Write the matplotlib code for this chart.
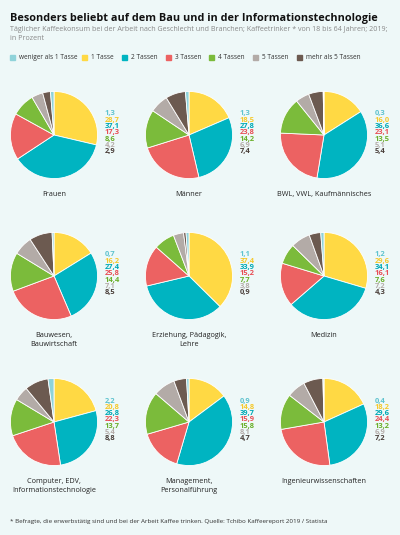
import matplotlib
matplotlib.use("Agg")
import matplotlib.pyplot as plt

categories = ["weniger als 1 Tasse", "1 Tasse", "2 Tassen", "3 Tassen", "4 Tassen", "5 Tassen", "mehr als 5 Tassen"]
groups = ["Frauen", "Männer", "BWL, VWL, Kaufmännisches",
          "Bauwesen,\nBauwirtschaft", "Erziehung, Pädagogik,\nLehre", "Medizin",
          "Computer, EDV,\nInformationstechnologie", "Management,\nPersonalführung", "Ingenieurwissenschaften"]
frauen = [1.3, 28.7, 37.1, 17.3, 8.6, 4.2, 2.9]
maenner = [1.3, 18.5, 27.8, 23.8, 14.2, 6.9, 7.4]
bwl = [0.3, 16.0, 36.6, 23.1, 13.5, 5.1, 5.4]
bau = [0.7, 16.2, 27.4, 25.8, 14.4, 7.1, 8.5]
erziehung = [1.1, 37.4, 33.9, 15.2, 7.7, 3.8, 0.9]
medizin = [1.2, 29.6, 34.1, 16.1, 7.6, 7.2, 4.3]
computer = [2.2, 20.8, 26.8, 22.3, 13.7, 5.4, 8.8]
management = [0.9, 14.8, 39.7, 15.9, 15.8, 8.1, 4.7]
ingenieur = [0.4, 18.2, 29.6, 24.4, 13.2, 6.9, 7.2]
data = [frauen, maenner, bwl, bau, erziehung, medizin, computer, management, ingenieur]

colors = ["#8fd3da", "#ffd944", "#00b4c1", "#ec6262", "#7bbb3b", "#b3aba7", "#6c5a50"]
text_colors = ["#5fc3cf", "#f5c92d", "#00a8b5", "#e84e55", "#6aaf2a", "#b5adaa", "#4a3f3a"]
bg = "#eef8f8"
W, H = 400, 535
plt.rcParams['font.family'] = ['Open Sans', 'DejaVu Sans']
fig = plt.figure(figsize=(4, 5.35), dpi=100, facecolor=bg)

fig.text(10/W, 1-18/H, "Besonders beliebt auf dem Bau und in der Informationstechnologie",
         fontsize=7.8, fontweight="bold", color="#111111", va="center")
fig.text(10/W, 1-34/H, "Täglicher Kaffeekonsum bei der Arbeit nach Geschlecht und Branchen; Kaffeetrinker * von 18 bis 64 Jahren; 2019;\nin Prozent",
         fontsize=5.1, color="#888888", va="center", linespacing=1.3)
leg_x = [10, 82, 122, 166, 209, 253, 297]
for x, c, lab in zip(leg_x, colors, categories):
    fig.patches.append(plt.Rectangle((x/W, 1-60/H), 5/W, 5/H, color=c, transform=fig.transFigure))
    fig.text((x+9)/W, 1-57.5/H, lab, fontsize=4.7, color="#333333", va="center")

cx = [54, 189, 324]
cy = [135, 276, 422]
r = 44
for i, vals in enumerate(data):
    row, col = divmod(i, 3)
    x0, y0 = cx[col], cy[row]
    ax = fig.add_axes([(x0-r)/W, 1-(y0+r)/H, 2*r/W, 2*r/H])
    ordered = vals[1:] + vals[:1]
    ocols = colors[1:] + colors[:1]
    ax.pie(ordered, colors=ocols, startangle=90, counterclock=False,
           wedgeprops=dict(edgecolor="white", linewidth=0.6))
    ax.set_xlim(-1.01, 1.01)
    ax.set_ylim(-1.01, 1.01)
    ax.set_aspect("equal")
    ax.axis("off")
    lx = x0 + 51
    ly = y0 - 21
    for k, v in enumerate(vals):
        fig.text(lx/W, 1-(ly + k*6.3)/H, f"{v:.1f}".replace(".", ","),
                 fontsize=5.4, fontweight="bold", color=text_colors[k], va="center")
    fig.text(x0/W, 1-(y0+56)/H, groups[i], fontsize=5.2, color="#222222",
             ha="center", va="top", linespacing=1.4)

fig.text(10/W, 1-521/H, "* Befragte, die erwerbstätig sind und bei der Arbeit Kaffee trinken. Quelle: Tchibo Kaffeereport 2019 / Statista",
         fontsize=4.5, color="#333333", va="center")
fig.savefig("out.png", dpi=100, facecolor=bg)
